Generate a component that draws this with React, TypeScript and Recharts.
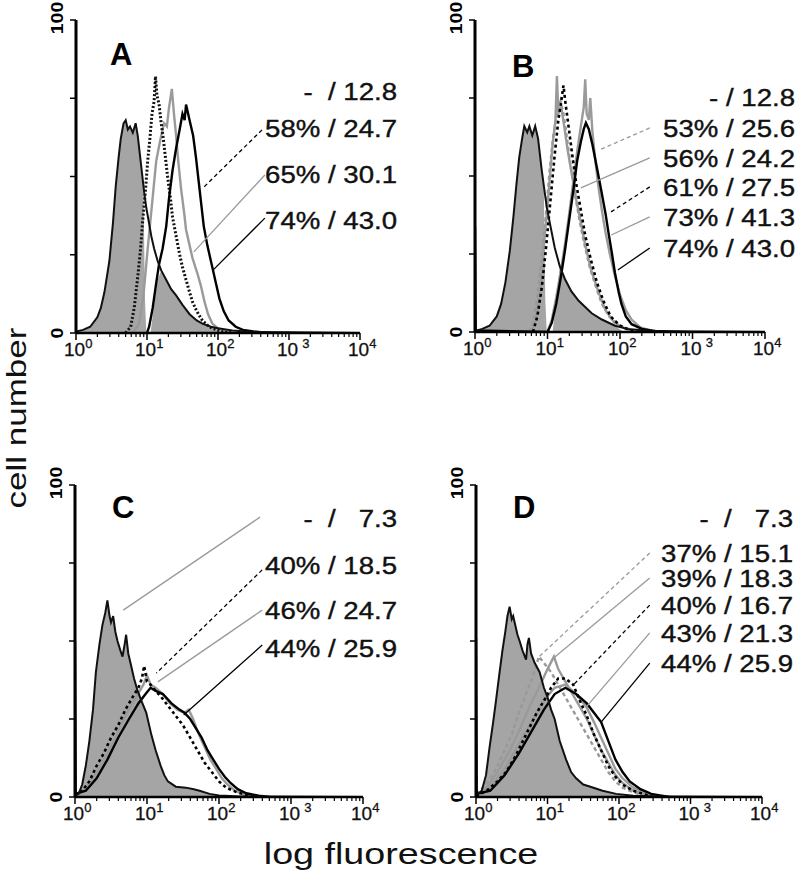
import React from 'react';
import { ComposedChart, Area, Line, XAxis, YAxis, ReferenceLine } from 'recharts';

type Pt = [number, number];

// x = log10(fluorescence), y = cell number (0-100)
const X_MAJOR = [0, 1, 2, 3, 4];
const X_MINOR = [0, 1, 2, 3].flatMap((d) => [2, 3, 4, 5, 6, 7, 8, 9].map((k) => d + Math.log10(k)));
const Y_TICKS = [0, 25, 50, 75, 100];

// ---- panel A ----
const A_CONTROL: Pt[] = [[0, 0.5], [0.1, 1], [0.2, 2], [0.3, 5], [0.35, 8], [0.4, 13], [0.47, 23], [0.52, 35], [0.56, 47], [0.6, 56], [0.63, 62], [0.67, 67], [0.7, 68], [0.73, 65], [0.76, 66], [0.8, 64], [0.84, 67], [0.87, 63], [0.92, 53], [0.96, 45], [0.99, 40], [1.03, 35], [1.06, 31], [1.1, 27], [1.15, 23], [1.2, 20], [1.27, 17], [1.34, 14], [1.41, 12], [1.5, 9], [1.6, 6], [1.7, 4], [1.78, 3], [1.9, 2], [2.0, 1.5], [2.2, 0.8], [2.5, 0.3], [3.0, 0.2], [4.0, 0]];
const A_SHADE: Pt[] = [[0, 0.5], [0.1, 1], [0.2, 2], [0.3, 5], [0.35, 8], [0.4, 13], [0.47, 23], [0.52, 35], [0.56, 47], [0.6, 56], [0.63, 62], [0.67, 67], [0.7, 68], [0.73, 65], [0.76, 66], [0.8, 64], [0.84, 67], [0.87, 63], [0.92, 53], [0.95, 46], [0.97, 12], [0.99, 0], [1.05, 0], [1.1, 9], [1.15, 17], [1.2, 20], [1.27, 17], [1.34, 14], [1.41, 12], [1.5, 9], [1.6, 6], [1.7, 4], [1.78, 3], [1.9, 2], [2.0, 1], [2.1, 0]];
const A_58: Pt[] = [[0.7, 0], [0.77, 2], [0.82, 8], [0.87, 18], [0.91, 27], [0.94, 36], [0.98, 46], [1.01, 55], [1.04, 62], [1.07, 70], [1.1, 74], [1.12, 82], [1.14, 76], [1.17, 73], [1.2, 67], [1.23, 62], [1.26, 56], [1.29, 50], [1.33, 43], [1.36, 37], [1.41, 31], [1.46, 25], [1.5, 21], [1.55, 17], [1.6, 13], [1.64, 10], [1.7, 7], [1.78, 4], [1.85, 2.5], [1.92, 1.5], [2.05, 0.5], [2.2, 0]];
const A_65: Pt[] = [[0.8, 0], [0.89, 3], [0.95, 12], [1.01, 27], [1.07, 41], [1.13, 55], [1.19, 62], [1.24, 67], [1.28, 66], [1.31, 72], [1.35, 78], [1.38, 70], [1.41, 63], [1.44, 55], [1.48, 46], [1.52, 39], [1.55, 33], [1.6, 28], [1.64, 24], [1.71, 19], [1.76, 15], [1.81, 10], [1.86, 6], [1.92, 3], [2.0, 1.5], [2.1, 0.5], [2.2, 0]];
const A_74: Pt[] = [[1.0, 0], [1.03, 2], [1.08, 8], [1.13, 16], [1.17, 22], [1.22, 27], [1.27, 34], [1.31, 43], [1.36, 52], [1.41, 59], [1.46, 65], [1.5, 70], [1.53, 68], [1.55, 73], [1.58, 70], [1.62, 66], [1.65, 63], [1.69, 56], [1.73, 48], [1.76, 42], [1.8, 34], [1.85, 28], [1.92, 21], [1.97, 16], [2.02, 11], [2.08, 7], [2.15, 4], [2.25, 2], [2.35, 1], [2.5, 0.5], [2.7, 0]];
const A_LABELS = ['-  / 12.8', '58% / 24.7', '65% / 30.1', '74% / 43.0'];

// ---- panel B ----
const B_CONTROL: Pt[] = [[0, 0.3], [0.1, 1], [0.2, 2], [0.3, 5], [0.36, 9], [0.42, 16], [0.48, 26], [0.53, 37], [0.57, 47], [0.61, 56], [0.65, 62], [0.68, 66], [0.72, 64], [0.75, 66], [0.79, 63], [0.83, 66], [0.87, 62], [0.92, 52], [0.96, 45], [0.99, 40], [1.04, 34], [1.1, 27], [1.17, 21], [1.24, 17], [1.33, 13], [1.43, 10], [1.52, 8], [1.61, 6], [1.75, 4], [1.93, 2], [2.1, 1], [2.4, 0.4], [3.0, 0.2], [4.0, 0]];
const B_SHADE: Pt[] = [[0, 0.3], [0.1, 1], [0.2, 2], [0.3, 5], [0.36, 9], [0.42, 16], [0.48, 26], [0.53, 37], [0.57, 47], [0.61, 56], [0.65, 62], [0.68, 66], [0.72, 64], [0.75, 66], [0.79, 63], [0.83, 66], [0.87, 62], [0.92, 52], [0.95, 45], [0.97, 10], [0.99, 0], [1.07, 0], [1.13, 12], [1.17, 21], [1.24, 17], [1.33, 13], [1.43, 10], [1.52, 8], [1.61, 6], [1.75, 4], [1.93, 2], [2.05, 0]];
const B_53: Pt[] = [[0.75, 0], [0.8, 3], [0.86, 11], [0.92, 24], [0.98, 38], [1.03, 52], [1.08, 63], [1.13, 70], [1.18, 74], [1.22, 70], [1.27, 62], [1.32, 53], [1.38, 44], [1.44, 36], [1.5, 29], [1.58, 21], [1.66, 15], [1.75, 9], [1.85, 5], [2.0, 2], [2.2, 0.3]];
const B_56: Pt[] = [[0.78, 0], [0.84, 4], [0.9, 14], [0.96, 30], [1.02, 46], [1.07, 60], [1.11, 68], [1.13, 82], [1.15, 70], [1.19, 72], [1.23, 66], [1.28, 58], [1.34, 50], [1.4, 42], [1.46, 35], [1.52, 28], [1.6, 20], [1.7, 13], [1.8, 7], [1.92, 3], [2.1, 0.8], [2.3, 0]];
const B_61: Pt[] = [[0.8, 0], [0.86, 5], [0.92, 14], [0.98, 27], [1.04, 42], [1.1, 57], [1.15, 68], [1.19, 74], [1.22, 79], [1.25, 73], [1.29, 66], [1.34, 57], [1.4, 47], [1.46, 39], [1.52, 31], [1.6, 23], [1.68, 16], [1.77, 10], [1.87, 5], [2.0, 2], [2.15, 0.5], [2.3, 0]];
const B_73: Pt[] = [[1.0, 0], [1.06, 4], [1.12, 11], [1.18, 19], [1.24, 28], [1.3, 38], [1.36, 49], [1.41, 58], [1.46, 66], [1.5, 72], [1.52, 81], [1.54, 70], [1.57, 68], [1.59, 75], [1.62, 64], [1.66, 55], [1.7, 47], [1.75, 39], [1.8, 32], [1.86, 25], [1.93, 18], [2.0, 12], [2.08, 7], [2.16, 4], [2.28, 1.5], [2.45, 0.3]];
const B_74: Pt[] = [[0, 34], [0.01, 0.5], [1.0, 0], [1.06, 3], [1.12, 9], [1.18, 17], [1.24, 26], [1.3, 36], [1.36, 46], [1.41, 55], [1.46, 61], [1.5, 65], [1.53, 67], [1.57, 65], [1.62, 60], [1.67, 54], [1.72, 48], [1.76, 43], [1.8, 38], [1.84, 32], [1.89, 25], [1.93, 19], [1.98, 13], [2.02, 9], [2.08, 5], [2.16, 2.5], [2.3, 1], [2.5, 0.3]];
const B_LABELS = ['- / 12.8', '53% / 25.6', '56% / 24.2', '61% / 27.5', '73% / 41.3', '74% / 43.0'];

// ---- panel C ----
const C_CONTROL: Pt[] = [[0, 0.5], [0.05, 1], [0.1, 4], [0.15, 10], [0.2, 18], [0.25, 28], [0.29, 40], [0.34, 49], [0.38, 55], [0.42, 59], [0.45, 63], [0.48, 58], [0.5, 56], [0.53, 58], [0.56, 53], [0.59, 50], [0.63, 47], [0.66, 45], [0.69, 49], [0.71, 52], [0.74, 46], [0.77, 43], [0.82, 38], [0.87, 34], [0.92, 31], [0.99, 27], [1.06, 20], [1.12, 15], [1.19, 10], [1.24, 7], [1.29, 5], [1.4, 3.3], [1.54, 3], [1.65, 2.5], [1.73, 2], [1.87, 1], [2.0, 0.5], [2.3, 0.2], [4.0, 0]];
const C_40: Pt[] = [[0, 0.5], [0.1, 2], [0.2, 5], [0.3, 10], [0.4, 14], [0.5, 19], [0.6, 23], [0.7, 28], [0.8, 32], [0.88, 35], [0.93, 38], [0.96, 42], [1.0, 37], [1.05, 36], [1.12, 34], [1.2, 32], [1.3, 29], [1.4, 26], [1.5, 23], [1.6, 19], [1.7, 15], [1.8, 11], [1.9, 8], [2.0, 5], [2.1, 3], [2.25, 1.5], [2.45, 0.3]];
const C_46: Pt[] = [[0, 0.5], [0.15, 3], [0.3, 8], [0.45, 14], [0.6, 21], [0.72, 27], [0.85, 32], [0.95, 36], [1.0, 39], [1.05, 36], [1.12, 35], [1.22, 33], [1.32, 30], [1.42, 28], [1.52, 27], [1.58, 28], [1.64, 25], [1.72, 20], [1.8, 16], [1.88, 12], [1.96, 9], [2.04, 6], [2.12, 4], [2.22, 2], [2.35, 0.8], [2.5, 0.2]];
const C_44: Pt[] = [[0, 50], [0.01, 1], [0.15, 2], [0.3, 6], [0.45, 12], [0.6, 19], [0.75, 25], [0.88, 30], [0.98, 33], [1.05, 35], [1.12, 34], [1.22, 33], [1.34, 30], [1.45, 28], [1.52, 27], [1.6, 25], [1.68, 22], [1.76, 19], [1.84, 15], [1.92, 12], [2.0, 9], [2.08, 6.5], [2.16, 4.5], [2.26, 2.5], [2.38, 1.2], [2.55, 0.4], [2.7, 0]];
const C_LABELS = ['-  /   7.3', '40% / 18.5', '46% / 24.7', '44% / 25.9'];

// ---- panel D ----
const D_CONTROL: Pt[] = [[0, 0.5], [0.08, 2], [0.14, 7], [0.19, 16], [0.24, 24], [0.28, 31], [0.33, 40], [0.37, 47], [0.41, 53], [0.44, 58], [0.47, 61], [0.5, 57], [0.52, 58], [0.54, 56], [0.58, 52], [0.61, 50], [0.65, 47], [0.7, 44], [0.72, 49], [0.74, 51], [0.77, 46], [0.82, 43], [0.89, 40], [0.95, 35], [1.0, 32], [1.05, 28], [1.1, 25], [1.17, 18], [1.26, 12], [1.33, 8], [1.4, 6], [1.5, 4], [1.6, 3.3], [1.77, 2], [1.96, 1], [2.2, 0.4], [2.6, 0.2], [4.0, 0]];
const D_37: Pt[] = [[0, 1], [0.1, 3], [0.2, 6], [0.3, 10], [0.4, 15], [0.5, 20], [0.6, 27], [0.7, 33], [0.8, 39], [0.88, 45], [0.95, 43], [1.05, 40], [1.15, 36], [1.25, 32], [1.35, 28], [1.45, 24], [1.55, 20], [1.65, 16], [1.75, 12], [1.85, 8], [1.95, 5], [2.05, 3], [2.2, 1.5], [2.4, 0.3]];
const D_39: Pt[] = [[0, 0.5], [0.15, 3], [0.3, 8], [0.45, 14], [0.6, 21], [0.75, 29], [0.9, 36], [1.0, 41], [1.09, 45], [1.15, 41], [1.25, 37], [1.35, 33], [1.45, 29], [1.55, 25], [1.65, 20], [1.75, 15], [1.85, 11], [1.95, 7], [2.05, 4.5], [2.2, 2], [2.4, 0.5]];
const D_40: Pt[] = [[0, 0.3], [0.15, 2], [0.3, 5], [0.42, 8], [0.55, 13], [0.7, 20], [0.85, 27], [0.98, 32], [1.05, 35], [1.15, 38], [1.25, 38], [1.36, 36], [1.45, 31], [1.55, 26], [1.65, 20], [1.75, 15], [1.85, 10], [1.95, 6.5], [2.05, 4], [2.2, 2], [2.4, 0.5]];
const D_43: Pt[] = [[0, 0.3], [0.2, 3], [0.4, 9], [0.6, 17], [0.8, 25], [0.95, 31], [1.1, 35], [1.25, 36], [1.4, 33], [1.54, 29], [1.65, 24], [1.75, 19], [1.85, 14], [1.95, 9], [2.05, 6], [2.2, 3], [2.4, 1], [2.6, 0]];
const D_44: Pt[] = [[0, 51], [0.01, 1], [0.2, 2], [0.4, 7], [0.6, 14], [0.8, 22], [0.95, 28], [1.1, 33], [1.25, 35], [1.4, 33], [1.55, 30], [1.65, 27], [1.75, 24], [1.85, 18], [1.95, 12], [2.05, 8], [2.15, 5], [2.3, 2.5], [2.45, 1], [2.7, 0]];
const D_LABELS = ['-  /   7.3', '37% / 15.1', '39% / 18.3', '40% / 16.7', '43% / 21.3', '44% / 25.9'];

const STYLES: Record<string, { stroke: string; width: number; dash?: string }> = {
  control: { stroke: '#111', width: 2 },
  black: { stroke: '#000', width: 2.4 },
  blackDash: { stroke: '#000', width: 2.6, dash: '3 3' },
  blackDot: { stroke: '#111', width: 3, dash: '2 2' },
  gray: { stroke: '#9a9a9a', width: 2.4 },
  grayDash: { stroke: '#999', width: 2.4, dash: '4 3' },
};

type Leader = { from: Pt; to: Pt; style: string };

const PANELS = [
  {
    letter: 'A', left: 76, top: 20, w: 284, h: 313,
    shade: A_SHADE, control: A_CONTROL,
    series: [
      { data: A_65, style: 'gray' },
      { data: A_58, style: 'blackDot' },
      { data: A_74, style: 'black' },
    ],
    leaders: [
      { from: [2.62, 64.9], to: [1.8, 46.6], style: 'blackDash' },
      { from: [2.66, 50.5], to: [1.66, 25.9], style: 'gray' },
      { from: [2.66, 36.7], to: [1.93, 20.1], style: 'black' },
    ] as Leader[],
    labels: A_LABELS, labelY: [91, 128, 174, 220], labelRight: 397,
    letterPos: [110, 65],
  },
  {
    letter: 'B', left: 475, top: 20, w: 290, h: 312,
    shade: B_SHADE, control: B_CONTROL,
    series: [
      { data: B_53, style: 'grayDash' },
      { data: B_56, style: 'gray' },
      { data: B_73, style: 'gray' },
      { data: B_61, style: 'blackDash' },
      { data: B_74, style: 'black' },
    ],
    leaders: [
      { from: [2.41, 65.4], to: [1.71, 58.3], style: 'grayDash' },
      { from: [2.41, 55.8], to: [1.46, 46.2], style: 'gray' },
      { from: [2.41, 46.5], to: [1.85, 38.1], style: 'blackDash' },
      { from: [2.41, 36.9], to: [1.88, 31.1], style: 'gray' },
      { from: [2.41, 26.9], to: [1.97, 19.9], style: 'black' },
    ] as Leader[],
    labels: B_LABELS, labelY: [97, 128, 158, 187, 217, 248], labelRight: 795,
    letterPos: [512, 77],
  },
  {
    letter: 'C', left: 75, top: 485, w: 288, h: 312,
    shade: C_CONTROL, control: C_CONTROL,
    series: [
      { data: C_46, style: 'gray' },
      { data: C_40, style: 'blackDash' },
      { data: C_44, style: 'black' },
    ],
    leaders: [
      { from: [2.57, 89.7], to: [0.67, 59.9], style: 'gray' },
      { from: [2.6, 72.8], to: [1.13, 39.7], style: 'blackDash' },
      { from: [2.6, 59.9], to: [1.15, 36.9], style: 'gray' },
      { from: [2.6, 48.7], to: [1.51, 26.3], style: 'black' },
    ] as Leader[],
    labels: C_LABELS, labelY: [518, 565, 610, 648], labelRight: 397,
    letterPos: [112, 518],
  },
  {
    letter: 'D', left: 476, top: 485, w: 286, h: 312,
    shade: D_CONTROL, control: D_CONTROL,
    series: [
      { data: D_37, style: 'grayDash' },
      { data: D_39, style: 'gray' },
      { data: D_43, style: 'gray' },
      { data: D_40, style: 'blackDash' },
      { data: D_44, style: 'black' },
    ],
    leaders: [
      { from: [2.43, 78.2], to: [0.88, 44.9], style: 'grayDash' },
      { from: [2.43, 70.2], to: [1.09, 44.6], style: 'gray' },
      { from: [2.43, 61.5], to: [1.36, 35.9], style: 'blackDash' },
      { from: [2.43, 52.6], to: [1.54, 28.8], style: 'gray' },
      { from: [2.43, 42.9], to: [1.75, 24.0], style: 'black' },
    ] as Leader[],
    labels: D_LABELS, labelY: [518, 553, 578, 605, 633, 663], labelRight: 793,
    letterPos: [513, 518],
  },
];

const FONT = '"Liberation Sans", Arial, Helvetica, sans-serif';
const toRows = (pts: Pt[]) => pts.map(([x, y]) => ({ x, y }));

const XTick = (props: any) => {
  const { x, y, payload } = props;
  const v: number = payload.value;
  const major = X_MAJOR.includes(v);
  if (!major) return <line x1={x} x2={x} y1={y} y2={y + 4} stroke="#000" strokeWidth={1.2} />;
  return (
    <g>
      <line x1={x} x2={x} y1={y} y2={y + 7} stroke="#000" strokeWidth={1.5} />
      <text x={x - 12} y={y + 23} fontSize={19} fontFamily={FONT} fill="#111" stroke="#111" strokeWidth={0.3}>
        10
        <tspan dx={v === 3 ? 4 : 0} dy={-8} fontSize={13}>{v}</tspan>
      </text>
    </g>
  );
};

const YTick = (props: any) => {
  const { x, y, payload } = props;
  const v: number = payload.value;
  return (
    <g>
      <line x1={x - 6} x2={x} y1={y} y2={y} stroke="#000" strokeWidth={1.5} />
      {(v === 0 || v === 100) && (
        <text
          transform={`translate(${x - 13},${v === 100 ? y - 2 : y}) rotate(-90) scale(1.15,1)`}
          textAnchor="middle"
          fontSize={17}
          fontWeight="bold"
          fontFamily={FONT}
          fill="#000"
        >
          {v}
        </text>
      )}
    </g>
  );
};

function Panel({ p }: { p: (typeof PANELS)[number] }) {
  const W = p.w + 90;
  const H = p.h + 60;
  return (
    <div style={{ position: 'absolute', left: p.left - 50, top: p.top - 20 }}>
      <ComposedChart width={W} height={H} margin={{ top: 20, right: 40, bottom: 10, left: 20 }}>
        <XAxis
          type="number"
          dataKey="x"
          domain={[0, 4]}
          ticks={[...X_MAJOR, ...X_MINOR]}
          interval={0}
          tick={<XTick />}
          tickSize={0}
          tickMargin={0}
          tickLine={false}
          axisLine={{ stroke: '#000', strokeWidth: 2.5 }}
          height={30}
          allowDataOverflow
        />
        <YAxis
          type="number"
          dataKey="y"
          domain={[0, 100]}
          ticks={Y_TICKS}
          interval={0}
          tick={<YTick />}
          tickSize={0}
          tickMargin={0}
          tickLine={false}
          axisLine={{ stroke: '#000', strokeWidth: 3 }}
          width={30}
          allowDataOverflow
        />
        <Area
          data={toRows(p.shade)}
          dataKey="y"
          type="linear"
          fill="#a5a5a5"
          fillOpacity={1}
          stroke="none"
          isAnimationActive={false}
        />
        {p.series.map((s, i) => {
          const st = STYLES[s.style];
          return (
            <Line
              key={i}
              data={toRows(s.data)}
              dataKey="y"
              type="linear"
              dot={false}
              stroke={st.stroke}
              strokeWidth={st.width}
              strokeDasharray={st.dash}
              isAnimationActive={false}
            />
          );
        })}
        <Line
          data={toRows(p.control)}
          dataKey="y"
          type="linear"
          dot={false}
          stroke={STYLES.control.stroke}
          strokeWidth={STYLES.control.width}
          isAnimationActive={false}
        />
        {p.leaders.map((l, i) => {
          const st = STYLES[l.style];
          return (
            <ReferenceLine
              key={`l${i}`}
              segment={[{ x: l.from[0], y: l.from[1] }, { x: l.to[0], y: l.to[1] }]}
              stroke={st.stroke}
              strokeWidth={1.3}
              strokeDasharray={st.dash ? '4 3' : undefined}
              ifOverflow="visible"
            />
          );
        })}
      </ComposedChart>
    </div>
  );
}

export default function App() {
  return (
    <div style={{ position: 'absolute', left: 0, top: 0, width: 800, height: 878, background: '#fff', overflow: 'hidden' }}>
      {PANELS.map((p) => (
        <Panel key={p.letter} p={p} />
      ))}
      <svg width={800} height={878} style={{ position: 'absolute', left: 0, top: 0, pointerEvents: 'none' }}>
        {PANELS.map((p) => (
          <g key={p.letter}>
            <text x={p.letterPos[0]} y={p.letterPos[1]} fontSize={31} fontWeight="bold" fontFamily={FONT} fill="#000">
              {p.letter}
            </text>
            {p.labels.map((t, i) => (
              <text
                key={i}
                transform={`translate(${p.labelRight},${p.labelY[i] + 8.5}) scale(1.15,1)`}
                textAnchor="end"
                fontSize={24}
                fontFamily={FONT}
                fill="#111"
                stroke="#111"
                strokeWidth={0.4}
                style={{ whiteSpace: 'pre' }}
              >
                {t}
              </text>
            ))}
          </g>
        ))}
        <text transform="translate(401,864) scale(1.3,1)" textAnchor="middle" fontSize={29} fontFamily={FONT} fill="#111">
          log fluorescence
        </text>
        <text transform="translate(26,418) rotate(-90) scale(1.25,1)" textAnchor="middle" fontSize={28} fontFamily={FONT} fill="#111">
          cell number
        </text>
      </svg>
    </div>
  );
}
